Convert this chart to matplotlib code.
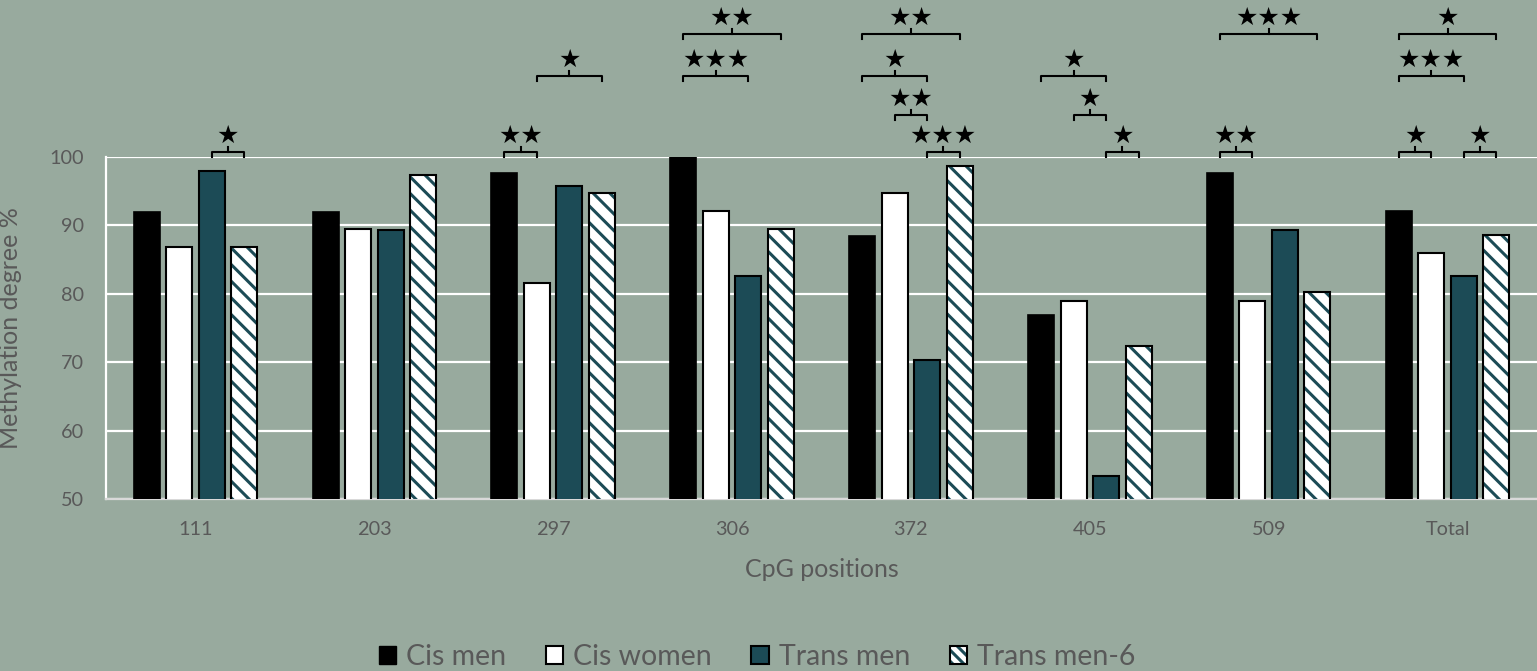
import numpy as np
import matplotlib
matplotlib.use("Agg")
import matplotlib.pyplot as plt
from matplotlib.patches import Patch

# ---------------------------
# data
# ---------------------------
categories = ['111', '203', '297', '306', '372', '405', '509', 'Total']
cis_men = [92.0, 92.0, 97.6, 100.0, 88.5, 76.9, 97.7, 92.1]
cis_women = [86.8, 89.5, 81.6, 92.1, 94.7, 78.9, 78.9, 86.0]
trans_men = [98.0, 89.4, 95.7, 82.6, 70.3, 53.3, 89.4, 82.6]
trans_men6 = [86.8, 97.4, 94.7, 89.5, 98.7, 72.4, 80.3, 88.6]
series_names = ['Cis men', 'Cis women', 'Trans men', 'Trans men-6']

# significance brackets: (category index, first bar, last bar, level, stars)
brackets = [
    (0, 2, 3, 100.7, 1),
    (2, 0, 1, 100.7, 2),
    (2, 1, 3, 111.8, 1),
    (3, 0, 2, 111.8, 3),
    (3, 0, 3, 118.0, 2),
    (4, 0, 3, 118.0, 2),
    (4, 0, 2, 111.8, 1),
    (4, 1, 2, 106.1, 2),
    (4, 2, 3, 100.7, 3),
    (5, 0, 2, 111.8, 1),
    (5, 1, 2, 106.1, 1),
    (5, 2, 3, 100.7, 1),
    (6, 0, 3, 118.0, 3),
    (6, 0, 1, 100.7, 2),
    (7, 0, 3, 118.0, 1),
    (7, 0, 2, 111.8, 3),
    (7, 0, 1, 100.7, 1),
    (7, 2, 3, 100.7, 1),
]

bg = '#98aa9e'
teal = '#1c4b56'
txt = '#595959'

plt.rcParams['font.family'] = ['Lato', 'DejaVu Sans']
plt.rcParams['hatch.linewidth'] = 2.2

fig = plt.figure(figsize=(15.37, 6.71), dpi=100, facecolor=bg)
ax = fig.add_axes([106 / 1537, 1 - 499 / 671, 1 - 106 / 1537, (499 - 157) / 671])
ax.set_facecolor(bg)

x = np.arange(len(categories))
width = 0.145
step = 0.1816
offsets = (np.arange(4) - 1.5) * step

ax.bar(x + offsets[0], cis_men, width, color='black', edgecolor='black', linewidth=1.2, zorder=3)
ax.bar(x + offsets[1], cis_women, width, color='white', edgecolor='black', linewidth=1.5, zorder=3)
ax.bar(x + offsets[2], trans_men, width, color=teal, edgecolor='black', linewidth=1.5, zorder=3)
ax.bar(x + offsets[3], trans_men6, width, color='white', edgecolor=teal, hatch='\\\\', linewidth=0, zorder=3)
ax.bar(x + offsets[3], trans_men6, width, color='none', edgecolor='black', linewidth=1.5, zorder=4)

ax.set_ylim(50, 100)
ax.set_xlim(-0.5, len(categories) - 0.5)
ax.set_yticks(np.arange(50, 101, 10))
ax.set_xticks(x)
ax.set_xticklabels(categories)
ax.tick_params(length=0, labelsize=14.3, labelcolor=txt)
ax.tick_params(axis='y', pad=16)
ax.tick_params(axis='x', pad=16)
ax.grid(axis='y', color='white', linewidth=1.6, zorder=1)
for side in ['top', 'right']:
    ax.spines[side].set_visible(False)
ax.spines['left'].set_color('white')
ax.spines['left'].set_linewidth(1.6)
ax.spines['bottom'].set_color('#d9d9d9')
ax.spines['bottom'].set_linewidth(1.6)

ax.set_xlabel('CpG positions', fontsize=18, color=txt, labelpad=14)
ax.set_ylabel('Methylation degree %', fontsize=18, color=txt)
ax.yaxis.set_label_coords(-84 / 1431, 0.5)

# brackets with stars
tick = 0.75
for ci, a, b, level, n in brackets:
    x0 = ci + offsets[a]
    x1 = ci + offsets[b]
    xm = (x0 + x1) / 2
    ax.plot([x0, x0, x1, x1], [level - tick, level, level, level - tick],
            color='black', linewidth=1.5, clip_on=False, zorder=5)
    ax.plot([xm, xm], [level, level + tick], color='black', linewidth=1.5,
            clip_on=False, zorder=5)
    ax.text(xm, level + 1.35, '\u2605' * n, ha='center', va='baseline',
            fontsize=18, family='DejaVu Sans', color='black', clip_on=False)

handles = [
    Patch(facecolor='black', edgecolor='black'),
    Patch(facecolor='white', edgecolor='black', linewidth=1.5),
    Patch(facecolor=teal, edgecolor='black', linewidth=1.5),
    (Patch(facecolor='white', edgecolor=teal, hatch='\\\\\\', linewidth=0),
     Patch(facecolor='none', edgecolor='black', linewidth=1.5)),
]
leg = fig.legend(handles, series_names, loc='center', ncol=4,
                 bbox_to_anchor=(757 / 1537, 1 - 657 / 671), frameon=False,
                 fontsize=20.5, handlelength=0.6, handleheight=0.6,
                 handletextpad=0.35, columnspacing=1.4)
for t in leg.get_texts():
    t.set_color(txt)

plt.savefig('out.png', dpi=100, facecolor=bg)
